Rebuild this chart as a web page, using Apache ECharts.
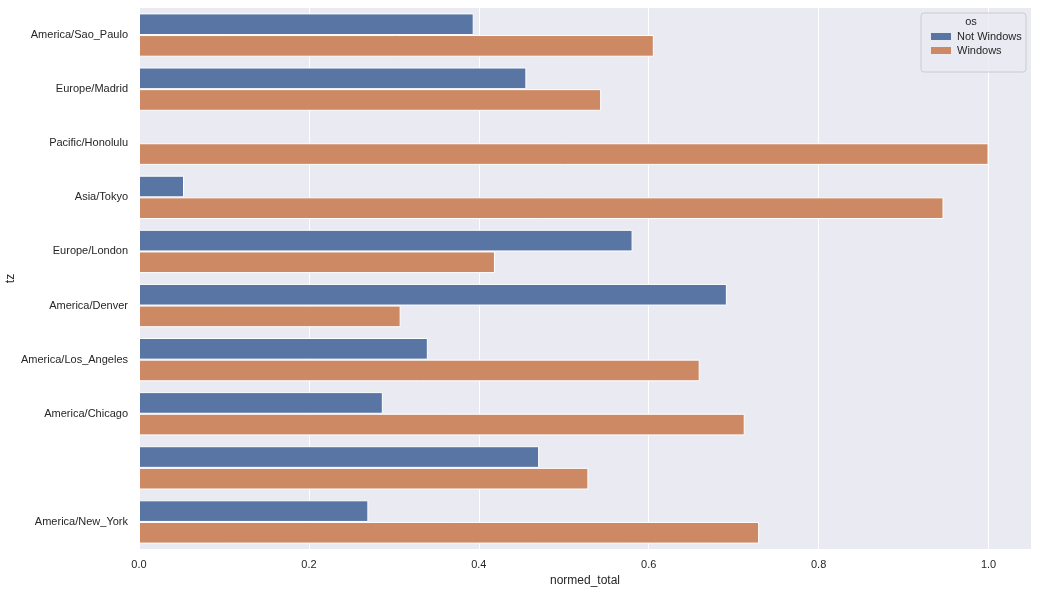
<!DOCTYPE html>
<html>
<head>
<meta charset="utf-8">
<script src="https://cdn.jsdelivr.net/npm/echarts@6/dist/echarts.min.js"></script>
<style>
  html, body { margin: 0; padding: 0; background: #fff; }
  #chart { width: 1037px; height: 591px; }
</style>
</head>
<body>
<div id="chart"></div>
<script>
// 时区分类（空字符串那一行原图就是没有标签）
const categories = ['America/Sao_Paulo', 'Europe/Madrid', 'Pacific/Honolulu', 'Asia/Tokyo', 'Europe/London',
  'America/Denver', 'America/Los_Angeles', 'America/Chicago', '', 'America/New_York']
const notWindows = [0.394, 0.456, 0, 0.053, 0.581, 0.692, 0.340, 0.287, 0.471, 0.270]
const windows = [0.606, 0.544, 1.0, 0.947, 0.419, 0.308, 0.660, 0.713, 0.529, 0.730]
const seriesNames = ['Not Windows', 'Windows']
const xTicks = [0, 0.2, 0.4, 0.6, 0.8, 1.0]

const textColor = '#262626'
const font = 'Liberation Sans, Arial, sans-serif'

const myChart = echarts.init(document.getElementById('chart'))
const option = {
  animation: false,
  textStyle: { fontFamily: font },
  grid: {
    left: 139, right: 6, top: 8, bottom: 42,
    outerBoundsMode: 'none',
    containLabel: false,
    show: true,
    backgroundColor: '#EAEAF2',
    borderWidth: 0
  },
  graphic: [
    {
      type: 'rect',
      z: 10,
      shape: { x: 921, y: 13, width: 105, height: 59, r: 3 },
      style: { fill: 'rgba(234,234,242,0.8)', stroke: '#cccccc', lineWidth: 1 }
    },
    {
      type: 'text',
      z: 11,
      style: { x: 971, y: 22, text: 'os', fill: textColor, font: '11px ' + font, textAlign: 'center', textVerticalAlign: 'middle' }
    }
  ],
  legend: {
    z: 12,
    orient: 'vertical',
    left: 926,
    top: 26,
    itemWidth: 20,
    itemHeight: 7,
    itemGap: 3,
    icon: 'rect',
    data: seriesNames,
    itemStyle: { borderWidth: 0 },
    textStyle: { color: textColor, fontSize: 11, fontFamily: font, padding: [0, 0, 0, 1] }
  },
  xAxis: {
    type: 'value',
    min: 0,
    max: 1.05,
    interval: 0.2,
    name: 'normed_total',
    nameLocation: 'middle',
    nameGap: 26,
    nameMoveOverlap: false,
    nameTextStyle: { color: textColor, fontSize: 12 },
    axisLine: { show: false },
    axisTick: { show: false },
    axisLabel: {
      color: textColor,
      fontSize: 11,
      margin: 10,
      showMaxLabel: false,
      formatter: v => xTicks.some(t => Math.abs(t - v) < 1e-6) ? v.toFixed(1) : ''
    },
    splitLine: { show: true, lineStyle: { color: '#ffffff', width: 1 } }
  },
  yAxis: {
    type: 'category',
    inverse: true,
    data: categories,
    name: 'tz',
    nameLocation: 'middle',
    nameRotate: 90,
    nameGap: 122,
    nameMoveOverlap: false,
    nameTextStyle: { color: textColor, fontSize: 12 },
    axisLine: { show: false },
    axisTick: { show: false },
    splitLine: { show: false },
    axisLabel: { color: textColor, fontSize: 11, margin: 11 }
  },
  series: [
    {
      name: seriesNames[0],
      type: 'bar',
      data: notWindows,
      barGap: '0%',
      barCategoryGap: '20%',
      itemStyle: { color: '#5975A4', borderColor: '#ffffff', borderWidth: 1 }
    },
    {
      name: seriesNames[1],
      type: 'bar',
      data: windows,
      barGap: '0%',
      barCategoryGap: '20%',
      itemStyle: { color: '#CC8963', borderColor: '#ffffff', borderWidth: 1 }
    }
  ]
}
myChart.setOption(option)
</script>
</body>
</html>
